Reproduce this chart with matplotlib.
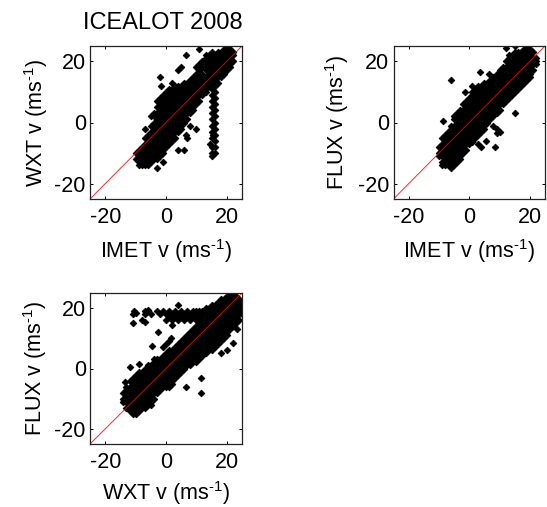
import numpy as np
import matplotlib
matplotlib.use("Agg")
import matplotlib.pyplot as plt

plt.rcParams['font.family'] = ['Liberation Sans', 'DejaVu Sans']
plt.rcParams['mathtext.fontset'] = 'custom'
plt.rcParams['mathtext.rm'] = 'Liberation Sans'
plt.rcParams['mathtext.default'] = 'regular'
plt.rcParams['axes.unicode_minus'] = False

# values, one list of y values per x column
# panel 1: IMET v against WXT v
imet_cols_a = [-10, -9, -8, -7, -6, -5, -4, -3, -2, -1, 0, 1, 2, 3, 4, 5, 6, 7, 8, 9, 10, 11, 12, 13, 14, 15, 16, 17, 18, 19, 20, 21, 22]
wxt_rows_a = [
    [-12, -10],
    [-14, -13, -11, -9],
    [-14, -12, -10, -8],
    [-14, -13, -11, -9, -7, -5],
    [-14, -12, -10, -8, -6, -4],
    [-13, -11, -9, -7, -5, -3, -1],
    [-12, -10, -8, -6, -4, -2, 0, 2, 3],
    [-12, -11, -9, -7, -5, -3, -1, 1, 3, 5, 7],
    [-11, -10, -8, -6, -4, -2, 0, 2, 4, 6, 8],
    [-10, -9, -7, -5, -3, -1, 1, 3, 5, 7, 9],
    [-8, -6, -4, -2, 0, 2, 4, 6, 8, 10],
    [-7, -5, -3, -1, 1, 3, 5, 7, 9, 11],
    [-6, -4, -2, 0, 2, 4, 6, 8, 10, 11],
    [-5, -3, -1, 1, 3, 5, 7, 9, 11, 12],
    [-3, -2, 0, 2, 4, 6, 8, 10, 12],
    [-2, -1, 1, 3, 5, 7, 9, 11, 12],
    [0, 2, 4, 6, 8, 10, 12, 13],
    [1, 3, 5, 7, 9, 11, 13],
    [3, 4, 6, 8, 10, 12, 14],
    [4, 5, 7, 9, 11, 13, 15],
    [6, 8, 10, 12, 14, 16, 18],
    [7, 9, 11, 13, 15, 17, 19],
    [9, 10, 12, 14, 16, 18, 20],
    [10, 11, 13, 15, 17, 19, 21, 22],
    [12, 14, 16, 18, 20, 22],
    [-10, -8, -5, -3, -1, 1, 3, 5, 7, 9, 11, 13, 15, 17, 19, 21, 23],
    [-10, -8, -6, -4, -2, 0, 2, 4, 6, 8, 10, 12, 14, 16, 18, 20, 22],
    [13, 15, 17, 19, 21, 23],
    [15, 16, 18, 20, 22, 23],
    [16, 17, 19, 21, 23, 24],
    [17, 18, 20, 22, 24],
    [18, 19, 21, 23, 24],
    [20, 22, 23],
]
imet_out_a = [-2, -1.5, 2, 4, 5, 6.5, 11, -5, -7, -3, -1.5, 4, 6, 7, 6.5, 10, -1, 8, 15, 14.5, 15.5]
wxt_out_a = [15, 12, 13, 17, 18, 22, 24, 2, -2, -15, -9, -9, -9, -5, -4, -2, -13, -1, -11, -7, -4]

# panel 2: IMET v against FLUX v
imet_cols_b = [-10, -9, -8, -7, -6, -5, -4, -3, -2, -1, 0, 1, 2, 3, 4, 5, 6, 7, 8, 9, 10, 11, 12, 13, 14, 15, 16, 17, 18, 19, 20, 21, 22]
flux_rows_b = [
    [-11, -10, -8],
    [-14, -13, -11, -9, -7, -5],
    [-14, -12, -10, -8, -6, -4],
    [-14, -13, -11, -9, -7, -5, -3],
    [-15, -14, -12, -10, -8, -6, -4, -2, -1],
    [-14, -13, -11, -9, -7, -5, -3, -1, 1, 2],
    [-13, -12, -10, -8, -6, -4, -2, 0, 2, 3],
    [-12, -11, -9, -7, -5, -3, -1, 1, 3, 4],
    [-10, -8, -6, -4, -2, 0, 2, 4, 6],
    [-9, -7, -5, -3, -1, 1, 3, 5, 7],
    [-7, -6, -4, -2, 0, 2, 4, 6, 8],
    [-6, -5, -3, -1, 1, 3, 5, 7, 9, 10],
    [-5, -4, -2, 0, 2, 4, 6, 8, 10, 11],
    [-4, -3, -1, 1, 3, 5, 7, 9, 11, 12],
    [-3, -2, 0, 2, 4, 6, 8, 10, 12],
    [-2, -1, 1, 3, 5, 7, 9, 11, 13],
    [0, 2, 4, 6, 8, 10, 12, 13],
    [1, 3, 5, 7, 9, 11, 13, 14],
    [2, 4, 6, 8, 10, 12, 14, 15],
    [3, 5, 7, 9, 11, 13, 15, 16],
    [4, 6, 8, 10, 12, 14, 16, 17],
    [6, 7, 9, 11, 13, 15, 17, 18],
    [7, 8, 10, 12, 14, 16, 18, 20],
    [8, 9, 11, 13, 15, 17, 19, 21, 22],
    [9, 10, 12, 14, 16, 18, 20, 22],
    [10, 11, 13, 15, 17, 19, 21, 23],
    [11, 12, 14, 16, 18, 20, 22, 23],
    [12, 13, 15, 17, 19, 21, 23],
    [13, 14, 16, 18, 20, 22, 24],
    [14, 15, 17, 19, 21, 23, 24],
    [15, 16, 18, 20, 22, 24],
    [17, 19, 21, 23],
    [19, 20, 21],
]
imet_out_b = [-6, -8.5, -1.5, 1, 3.5, 6.5, 15, 8, 9, 10, 9, 3, 5.5, 4, 8.5, 1, 12, 15, 19]
flux_out_b = [14, 0.5, 10, 12, 16.5, 16, 3, -1, -2, -3, -3.5, -7, -6, -8, -8, -6.5, 24.5, 25, 25]

# panel 3: WXT v against FLUX v
wxt_cols_c = [-14, -13, -12, -11, -10, -9, -8, -7, -6, -5, -4, -3, -2, -1, 0, 1, 2, 3, 4, 5, 6, 7, 8, 9, 10, 11, 12, 13, 14, 15, 16, 17, 18, 19, 20, 21, 22, 23, 24, 25]
flux_rows_c = [
    [-11, -10, -8],
    [-13, -11, -9, -7, -6],
    [-14, -12, -10, -8, -6, -4],
    [-15, -13, -11, -9, -7, -5, -3],
    [-15, -14, -12, -10, -8, -6, -4, -2],
    [-14, -13, -11, -9, -7, -5, -3, -1],
    [-13, -12, -10, -8, -6, -4, -2, -1],
    [-13, -11, -9, -7, -5, -3, -1, 0],
    [-12, -10, -8, -6, -4, -2, 0, 1],
    [-12, -11, -9, -7, -5, -3, -1, 1],
    [-10, -8, -6, -4, -2, 0, 2],
    [-8, -7, -5, -3, -1, 1, 3],
    [-7, -6, -4, -2, 0, 2, 3],
    [-6, -5, -3, -1, 1, 3, 4],
    [-6, -4, -2, 0, 2, 4, 5, 16, 18],
    [-6, -5, -3, -1, 1, 3, 5, 6, 17, 19],
    [-5, -4, -2, 0, 2, 4, 6, 16, 18],
    [-3, -1, 1, 3, 5, 7, 17, 19],
    [-2, 0, 2, 4, 6, 8, 16, 18],
    [-1, 1, 3, 5, 7, 9, 17, 19],
    [0, 2, 4, 6, 8, 10, 16, 18],
    [1, 3, 5, 7, 9, 11, 17, 19],
    [1, 2, 4, 6, 8, 10, 12, 16, 18],
    [2, 3, 5, 7, 9, 11, 13, 17, 19],
    [2, 4, 6, 8, 10, 12, 14, 16, 18, 19],
    [3, 5, 7, 9, 11, 13, 15, 17, 19],
    [4, 6, 8, 10, 12, 14, 16, 18, 19],
    [5, 7, 9, 11, 13, 15, 17, 19, 20],
    [6, 8, 10, 12, 14, 16, 18, 20],
    [6, 7, 9, 11, 13, 15, 17, 19, 21],
    [7, 8, 10, 12, 14, 16, 18, 20, 21],
    [8, 9, 11, 13, 15, 17, 19, 21, 22],
    [9, 10, 12, 14, 16, 18, 20, 22, 23],
    [10, 11, 13, 15, 17, 19, 21, 23],
    [11, 12, 14, 16, 18, 20, 22, 24],
    [13, 15, 17, 19, 21, 23, 24],
    [14, 16, 18, 20, 22, 24],
    [15, 17, 19, 21, 23, 24],
    [16, 18, 20, 22, 23],
    [18, 19, 21],
]
wxt_out_c = [-10.5, -11, -10, -7, -6, -5, -11, -8, -7, -7, -2.5, -4.5, -1, 0, 1, 1.5, 2, 4, -13.5, -12, -9, 6.5, 11.5, 11.5, 18, 20, 22, 23.5, -4, -3, -2, -1]
flux_out_c = [19, 18, 18.5, 19, 19.5, 18, 15, 16, 15.5, 18, 12, 7.5, 7, 8, 9, 10, 14.5, 21, -4.5, 0.5, 1.5, -6, -3, -8, 5, 6, 8.5, 13, 3, 19, 18, 19]

ticks = [-20, 0, 20]
W, H = 547.0, 507.0


def panel(box, cols, rows, out_x, out_y, xlabel, ylabel, xpad, ypad):
    # box is left, top, right, bottom in pixels
    left, top, right, bottom = box
    ax = fig.add_axes([left / W, 1 - bottom / H, (right - left) / W, (bottom - top) / H])
    xs = np.repeat(cols, [len(r) for r in rows])
    ys = np.concatenate(rows)
    ax.plot(np.concatenate([xs, out_x]), np.concatenate([ys, out_y]), 'D', color='black',
            markersize=3.4, markeredgewidth=0.6)
    ax.plot([-25, 25], [-25, 25], color='red', linewidth=0.7, alpha=0.85)
    ax.set_xlim(-25, 25)
    ax.set_ylim(-25, 25)
    ax.set_xticks(ticks)
    ax.set_yticks(ticks)
    ax.tick_params(direction='in', top=True, right=True, length=2, width=0.7, labelsize=15.5)
    ax.tick_params(axis='x', pad=6)
    ax.tick_params(axis='y', pad=3)
    for s in ax.spines.values():
        s.set_linewidth(0.9)
        s.set_color('#222222')
    ax.set_xlabel(xlabel, fontsize=15.5, labelpad=xpad)
    ax.set_ylabel(ylabel, fontsize=15.5, labelpad=ypad)
    return ax


fig = plt.figure(figsize=(5.47, 5.07), dpi=100)

ax1 = panel((90, 46, 242, 199), imet_cols_a, wxt_rows_a, imet_out_a, wxt_out_a,
            'IMET v (ms$^{\\text{-}1}$)', 'WXT v (ms$^{\\text{-}1}$)', 6, 3)
ax1.set_title('ICEALOT 2008', fontsize=17, pad=12, x=0.48)
panel((393.5, 46, 545, 199), imet_cols_b, flux_rows_b, imet_out_b, flux_out_b,
      'IMET v (ms$^{\\text{-}1}$)', 'FLUX v (ms$^{\\text{-}1}$)', 6, 5)
panel((90, 293, 242, 444), wxt_cols_c, flux_rows_c, wxt_out_c, flux_out_c,
      'WXT v (ms$^{\\text{-}1}$)', 'FLUX v (ms$^{\\text{-}1}$)', 4, 4)

fig.savefig('out.png', dpi=100)
